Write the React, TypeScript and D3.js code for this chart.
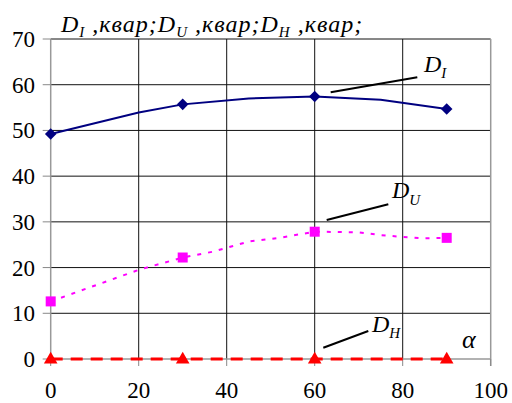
import React from "react";
import * as d3 from "d3";

const X_TICKS = [0, 20, 40, 60, 80, 100];
const Y_TICKS = [0, 10, 20, 30, 40, 50, 60, 70];

// marker values (alpha, kvar)
const MARK_X = [0, 30, 60, 90];
const DI_MARKS = [49.2, 55.7, 57.4, 54.7];
const DU_MARKS = [12.6, 22.2, 27.85, 26.5];
const DH_MARKS = [0, 0, 0, 0];

// smoothed line paths
const DI_LINE_X = [0, 20, 30, 45, 60, 75, 90];
const DI_LINE_Y = [49.2, 53.9, 55.7, 57.0, 57.4, 56.7, 54.7];
const DU_LINE_X = [0, 20, 30, 37, 45, 52, 60, 70, 75, 80, 85, 90];
const DU_LINE_Y = [12.6, 19.5, 22.2, 23.5, 25.7, 26.5, 27.85, 27.7, 27.1, 26.7, 26.4, 26.5];
const DH_LINE_X = [0, 30, 60, 90];
const DH_LINE_Y = [0, 0, 0, 0];

const W = 512;
const H = 403;
const SERIF = "Times New Roman, Tinos, Liberation Serif, DejaVu Serif, Noto Serif, serif";

export default function App() {
  const x = d3.scaleLinear().domain([0, 100]).range([50.7, 490.7]);
  const y = d3.scaleLinear().domain([0, 70]).range([359, 39]);

  const line = d3
    .line<[number, number]>()
    .x((d) => x(d[0]))
    .y((d) => y(d[1]));

  const zip = (xs: number[], ys: number[]) => xs.map((v, i) => [v, ys[i]] as [number, number]);

  const diamond = d3.symbol().type(d3.symbolDiamond2 ?? d3.symbolDiamond).size(85)();
  const tri = d3.symbol().type(d3.symbolTriangle).size(80)();

  const x0 = x(0), x1 = x(100), y0 = y(0), y1 = y(70);

  return (
    <svg
      width={W}
      height={H}
      fontFamily={SERIF}
      style={{ position: "absolute", left: 0, top: 0, background: "#fff" }}
    >
      <rect width={W} height={H} fill="#fff" />
      {/* grid */}
      {Y_TICKS.filter((t) => t > 0).map((t) => (
        <line key={"hy" + t} x1={x0} x2={x1} y1={y(t)} y2={y(t)} stroke="#111" strokeWidth={1} />
      ))}
      {X_TICKS.filter((t) => t > 0 && t < 100).map((t) => (
        <line key={"vx" + t} x1={x(t)} x2={x(t)} y1={y1} y2={y0} stroke="#111" strokeWidth={1} />
      ))}
      <line x1={x1} x2={x1} y1={y1} y2={y0 + 7} stroke="#999" strokeWidth={1.5} />
      {/* axes */}
      <line x1={x0} x2={x0} y1={y1} y2={y0} stroke="#999" strokeWidth={1.5} />
      <line x1={x0} x2={x1} y1={y0} y2={y0} stroke="#999" strokeWidth={1.5} />
      {Y_TICKS.map((t) => (
        <line key={"ty" + t} x1={x0 - 8} x2={x0} y1={y(t)} y2={y(t)} stroke="#888" strokeWidth={1} />
      ))}
      {X_TICKS.map((t) => (
        <line key={"tx" + t} x1={x(t)} x2={x(t)} y1={y0} y2={y0 + 7} stroke="#888" strokeWidth={1} />
      ))}
      {/* tick labels */}
      {Y_TICKS.map((t) => (
        <text key={"ly" + t} x={35} y={y(t) + 8} textAnchor="end" fontSize={23} fill="#000">
          {t}
        </text>
      ))}
      {X_TICKS.map((t) => (
        <text key={"lx" + t} x={x(t)} y={398} textAnchor="middle" fontSize={23} fill="#000">
          {t}
        </text>
      ))}

      {/* series lines */}
      <path d={line(zip(DI_LINE_X, DI_LINE_Y)) ?? ""} fill="none" stroke="#000080" strokeWidth={2} />
      <path
        d={line(zip(DU_LINE_X, DU_LINE_Y)) ?? ""}
        fill="none"
        stroke="#ff00ff"
        strokeWidth={2}
        strokeDasharray="4,7"
      />
      <path
        d={line(zip(DH_LINE_X, DH_LINE_Y)) ?? ""}
        fill="none"
        stroke="#ff0000"
        strokeWidth={3}
        strokeDasharray="12,8"
      />

      {/* markers */}
      {MARK_X.map((v, i) => (
        <path key={"di" + i} d={diamond ?? ""} transform={`translate(${x(v)},${y(DI_MARKS[i])})`} fill="#000080" />
      ))}
      {MARK_X.map((v, i) => (
        <rect key={"du" + i} x={x(v) - 5} y={y(DU_MARKS[i]) - 5} width={10} height={10} fill="#ff00ff" />
      ))}
      {MARK_X.map((v, i) => (
        <path key={"dh" + i} d={tri ?? ""} transform={`translate(${x(v)},${y(DH_MARKS[i]) + 0.5})`} fill="#ff0000" />
      ))}

      {/* annotations */}
      <line x1={330.7} y1={92.3} x2={417.3} y2={77.3} stroke="#000" strokeWidth={2} />
      <text x={424} y={72} fontSize={24} fontStyle="italic">
        D<tspan fontSize={15} dy={6}>I</tspan>
      </text>
      <line x1={326.7} y1={220} x2={388.3} y2={204.3} stroke="#000" strokeWidth={2} />
      <text x={392} y={198} fontSize={24} fontStyle="italic">
        D<tspan fontSize={15} dy={7}>U</tspan>
      </text>
      <line x1={323.3} y1={347.7} x2={368.3} y2={331} stroke="#000" strokeWidth={2} />
      <text x={372} y={332} fontSize={24} fontStyle="italic">
        D<tspan fontSize={15} dy={6}>H</tspan>
      </text>
      <text x={462} y={348} fontSize={26} fontStyle="italic">
        α
      </text>

      {/* title */}
      <text x={61} y={32} fontSize={24} fontStyle="italic" letterSpacing={1}>
        D<tspan fontSize={15} dy={5}>I</tspan>
        <tspan dy={-5}> ,квар;D</tspan>
        <tspan fontSize={15} dy={5}>U</tspan>
        <tspan dy={-5}> ,квар;D</tspan>
        <tspan fontSize={15} dy={5}>H</tspan>
        <tspan dy={-5}> ,квар;</tspan>
      </text>
    </svg>
  );
}
